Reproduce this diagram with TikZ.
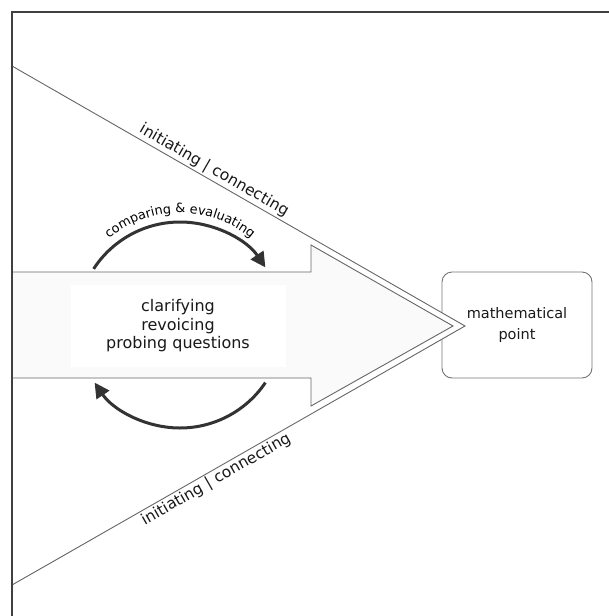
\documentclass[tikz,border=0pt]{standalone}
\usepackage{fontspec}
\setmainfont{DejaVu Sans}
\usetikzlibrary{arrows.meta,decorations.text}
\begin{document}
\begin{tikzpicture}[x=1pt,y=-1pt,
  thinline/.style={draw=black!60, line width=0.9pt},
  framestyle/.style={draw=black!75, line width=1.4pt},
  curvearrow/.style={draw=black!80, line width=3pt, -{Triangle[length=15pt,width=15pt]}},
  difflabel/.style={font=\fontsize{15.5}{17}\selectfont, inner sep=2pt, text=black!90},
  pointbox/.style={draw=black!55, line width=0.9pt, rounded corners=10pt, minimum width=150pt, minimum height=106pt, align=center, font=\fontsize{14.5}{21}\selectfont, text=black!90},
  centertext/.style={fill=white, minimum width=215pt, minimum height=82pt, align=center, font=\fontsize{16}{18.5}\selectfont, text=black!90}]
\useasboundingbox (0,0) rectangle (609,616);
% mathematical point box
\node[pointbox] (mp) at (517,325) {mathematical\\point};
% outer triangle
\coordinate (ot) at (12,66);
\coordinate (oa) at (465,326);
\coordinate (ob) at (12,585);
\fill[white] (ot) -- (oa) -- (ob) -- cycle;
\draw[thinline] (ot) -- (oa) -- (ob);
\path (ot) -- (oa) node[difflabel, sloped, above, pos=0.435] (lu) {initiating | connecting};
\path (ob) -- (oa) node[difflabel, sloped, below, pos=0.44] (ll) {initiating | connecting};
% inner arrow
\coordinate (s1) at (12,272);
\coordinate (n1) at (311,272);
\coordinate (h1) at (311,245);
\coordinate (ia) at (453,326);
\coordinate (h2) at (311,406);
\coordinate (n2) at (311,378);
\coordinate (s2) at (12,378);
\draw[thinline, fill=black!2] (s1) -- (n1) -- (h1) -- (ia) -- (h2) -- (n2) -- (s2);
\node[centertext] (ct) at (178,326) {clarifying\\revoicing\\probing questions};
% curved arrows
\coordinate (c) at (180,325);
\draw[curvearrow] ([shift={(-147:103)}]c) arc[start angle=-147, end angle=-34, radius=103];
\draw[curvearrow] ([shift={(34:103)}]c) arc[start angle=34, end angle=146, radius=103];
\path[decorate, decoration={text along path, text align=center,
  text={|\fontsize{12.8}{13}\selectfont|comparing {\&} evaluating}}]
  ([shift={(-142:112)}]c) arc[start angle=-142, end angle=-38, radius=112];
% frame
\coordinate (f1) at (12,616);
\coordinate (f2) at (12,12);
\coordinate (f3) at (609,12);
\draw[framestyle] (f1) -- (f2) -- (f3);
\end{tikzpicture}
\end{document}
